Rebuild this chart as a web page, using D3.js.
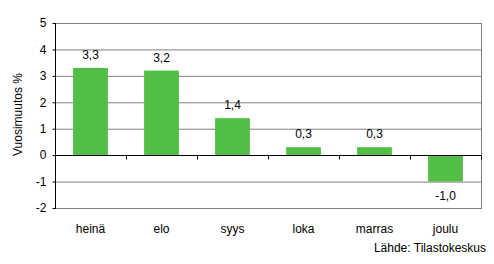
<!DOCTYPE html>
<html>
<head>
<meta charset="utf-8">
<script src="https://cdnjs.cloudflare.com/ajax/libs/d3/7.8.5/d3.min.js"></script>
<style>
  body { margin: 0; background: #fff; }
  svg text { font-family: "Liberation Sans", Arial, sans-serif; font-size: 12px; fill: #000; }
</style>
</head>
<body>
<div id="chart"></div>
<script>
// kuukaudet ja vuosimuutokset
var months = ["heinä", "elo", "syys", "loka", "marras", "joulu"];
var values = [3.3, 3.2, 1.4, 0.3, 0.3, -1.0];
var valueLabels = ["3,3", "3,2", "1,4", "0,3", "0,3", "-1,0"];
var yTicks = [-2, -1, 0, 1, 2, 3, 4, 5];

var width = 494, height = 264;
var margin = { top: 23, right: 13, bottom: 56, left: 55 };

var svg = d3.select("#chart").append("svg")
  .attr("width", width)
  .attr("height", height);

var x = d3.scaleBand()
  .domain(months)
  .range([margin.left, width - margin.right])
  .paddingInner(0.51)
  .paddingOuter(0.255);

var y = d3.scaleLinear()
  .domain([-2, 5])
  .range([height - margin.bottom, margin.top]);

// gridlines
svg.append("g")
  .selectAll("line")
  .data(yTicks.filter(function(d) { return d !== 0; }))
  .enter().append("line")
  .attr("x1", margin.left)
  .attr("x2", width - margin.right)
  .attr("y1", function(d) { return y(d) + 0.5; })
  .attr("y2", function(d) { return y(d) + 0.5; })
  .attr("stroke", "#808080")
  .attr("stroke-width", 1);

// right border
svg.append("line")
  .attr("x1", width - margin.right + 0.5)
  .attr("x2", width - margin.right + 0.5)
  .attr("y1", y(5))
  .attr("y2", y(-2) + 1)
  .attr("stroke", "#808080");

// bars
svg.append("g")
  .selectAll("rect")
  .data(values)
  .enter().append("rect")
  .attr("x", function(d, i) { return x(months[i]); })
  .attr("width", x.bandwidth())
  .attr("y", function(d) { return y(Math.max(0, d)); })
  .attr("height", function(d) { return Math.abs(y(d) - y(0)); })
  .attr("fill", "#52BE45");

// value labels
svg.append("g")
  .selectAll("text")
  .data(values)
  .enter().append("text")
  .attr("x", function(d, i) { return x(months[i]) + x.bandwidth() / 2; })
  .attr("y", function(d) { return d >= 0 ? y(d) - 9 : y(d) + 18; })
  .attr("text-anchor", "middle")
  .text(function(d, i) { return valueLabels[i]; });

// y axis
var yAxis = d3.axisLeft(y)
  .tickValues(yTicks)
  .tickSize(3)
  .tickPadding(6)
  .tickFormat(function(d) { return d; });

var gy = svg.append("g")
  .attr("transform", "translate(" + (margin.left + 0.5) + ",0)")
  .call(yAxis);
gy.select(".domain").attr("stroke", "#000").attr("d", "M0," + y(5) + "V" + (y(-2) + 1));
gy.selectAll(".tick line").attr("stroke", "#000");
gy.selectAll("text").style("font-size", "12px").style("font-family", "Liberation Sans, Arial, sans-serif");

// zero line with ticks between categories
var zero = Math.round(y(0)) + 0.5;
svg.append("line")
  .attr("x1", margin.left)
  .attr("x2", width - margin.right + 1)
  .attr("y1", zero)
  .attr("y2", zero)
  .attr("stroke", "#000");

svg.append("g")
  .selectAll("line")
  .data(months)
  .enter().append("line")
  .attr("x1", function(d) { return Math.round(x(d) - x.step() * x.paddingOuter() + x.step()) + 0.5; })
  .attr("x2", function(d) { return Math.round(x(d) - x.step() * x.paddingOuter() + x.step()) + 0.5; })
  .attr("y1", zero)
  .attr("y2", zero + 4)
  .attr("stroke", "#000");

// category labels
svg.append("g")
  .selectAll("text")
  .data(months)
  .enter().append("text")
  .attr("x", function(d) { return x(d) + x.bandwidth() / 2; })
  .attr("y", 233)
  .attr("text-anchor", "middle")
  .text(function(d) { return d; });

// y title
svg.append("text")
  .attr("transform", "translate(22," + ((y(5) + y(-2)) / 2 - 1) + ") rotate(-90)")
  .attr("text-anchor", "middle")
  .text("Vuosimuutos %");

// source
svg.append("text")
  .attr("x", 486)
  .attr("y", 252)
  .attr("text-anchor", "end")
  .text("Lähde: Tilastokeskus");
</script>
</body>
</html>
